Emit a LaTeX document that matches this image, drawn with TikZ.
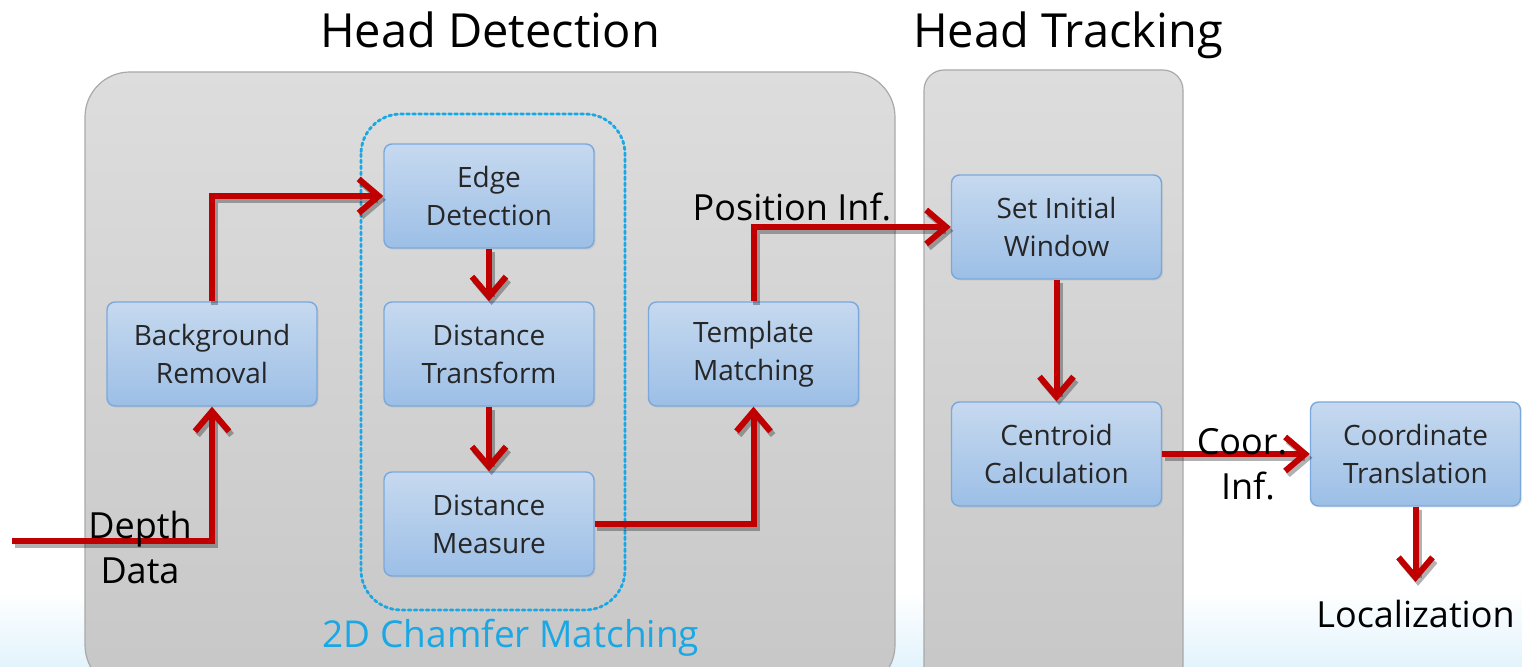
\documentclass[tikz,border=0pt]{standalone}
\usepackage{fontspec}
\setmainfont{Open Sans}
\usetikzlibrary{arrows.meta,shadows}
\definecolor{flowred}{HTML}{C00000}
\definecolor{boxtop}{HTML}{C6D9EF}
\definecolor{boxbot}{HTML}{9CBFE6}
\definecolor{boxline}{HTML}{7AA8DC}
\definecolor{paneltop}{HTML}{DDDDDD}
\definecolor{panelbot}{HTML}{C7C7C7}
\definecolor{panelline}{HTML}{A9A9A9}
\definecolor{chamfer}{HTML}{1AA7E4}
\definecolor{skyfade}{HTML}{E2F3FC}
\tikzset{
  panel/.style={draw=panelline, line width=0.6pt, top color=paneltop, bottom color=panelbot},
  stepbox/.style={draw=boxline, line width=0.7pt, rounded corners=4pt,
    top color=boxtop, bottom color=boxbot, minimum width=105pt, minimum height=52pt,
    align=center, font=\fontsize{14}{19}\selectfont, text=black!85,
    drop shadow={opacity=0.15, shadow xshift=0.8pt, shadow yshift=-0.8pt}},
  flowtip/.style={-{Straight Barb[length=10pt, width=17pt, line width=3pt]}},
  flow/.style={draw=flowred, line width=3pt, line join=miter, flowtip},
  flowshade/.style={draw=black, opacity=0.3, line width=3.4pt, line join=miter, flowtip,
    transform canvas={xshift=1.3pt, yshift=-1.9pt}},
  label/.style={align=center, font=\fontsize{18}{22.5}\selectfont, text=black},
  heading/.style={font=\fontsize{23.5}{28}\selectfont, text=black, anchor=base}
}
% a red connector over its soft grey offset shadow
\newcommand{\flowlink}[1]{\draw[flowshade] #1; \draw[flow] #1;}
\begin{document}
\begin{tikzpicture}[x=0.5pt, y=-0.5pt]
\useasboundingbox (0,0) rectangle (1522,667);
\clip (0,0) rectangle (1522,667);
% faint sky-blue fade along the bottom edge
\shade[top color=white, bottom color=skyfade] (0,590) rectangle (1522,668);

% stage panels
\draw[panel, rounded corners=22.5pt] (85,72) rectangle (895,690);
\draw[panel, rounded corners=10pt] (924,70) rectangle (1183,690);

% chamfer matching group
\draw[chamfer, line width=1.4pt, dash pattern=on 1.4pt off 1.6pt, line cap=round, rounded corners=20pt]
  (361,114) rectangle (625,610);
\node[text=chamfer, font=\fontsize{18.5}{22}\selectfont] (chamfertitle) at (511,638) {2D Chamfer Matching};

% headings
\node[heading] (hdet) at (490,48) {Head Detection};
\node[heading] (htrk) at (1068,48) {Head Tracking};

% processing steps
\node[stepbox] (bg) at (212,354) {Background\\Removal};
\node[stepbox] (edge) at (489,196) {Edge\\Detection};
\node[stepbox] (dtrans) at (489,354) {Distance\\Transform};
\node[stepbox] (dmeas) at (489,524) {Distance\\Measure};
\node[stepbox] (tmatch) at (753.5,354) {Template\\Matching};
\node[stepbox] (setwin) at (1056.5,227) {Set Initial\\Window};
\node[stepbox] (centroid) at (1056.5,454) {Centroid\\Calculation};
\node[stepbox] (coordt) at (1415.5,454) {Coordinate\\Translation};

% data flow
\coordinate (src) at (12,541);
\coordinate (out) at (1415.5,582);
\flowlink{(src) -| (bg.south)}
\flowlink{(bg.north) |- (edge.west)}
\flowlink{(edge.south) -- (dtrans.north)}
\flowlink{(dtrans.south) -- (dmeas.north)}
\flowlink{(dmeas.east) -| (tmatch.south)}
\flowlink{(tmatch.north) |- (setwin.west)}
\flowlink{(setwin.south) -- (centroid.north)}
\flowlink{(centroid.east) -- (coordt.west)}
\flowlink{(coordt.south) -- (out)}

% flow labels
\node[label] (depth) at (140,548) {Depth\\Data};
\node[label] (posinf) at (792,207) {Position Inf.};
\node[label] (coorinf) at (1242,464) {Coor.\\\hspace*{6pt}Inf.};
\node[label] (loc) at (1415.5,614) {Localization};
\end{tikzpicture}
\end{document}
